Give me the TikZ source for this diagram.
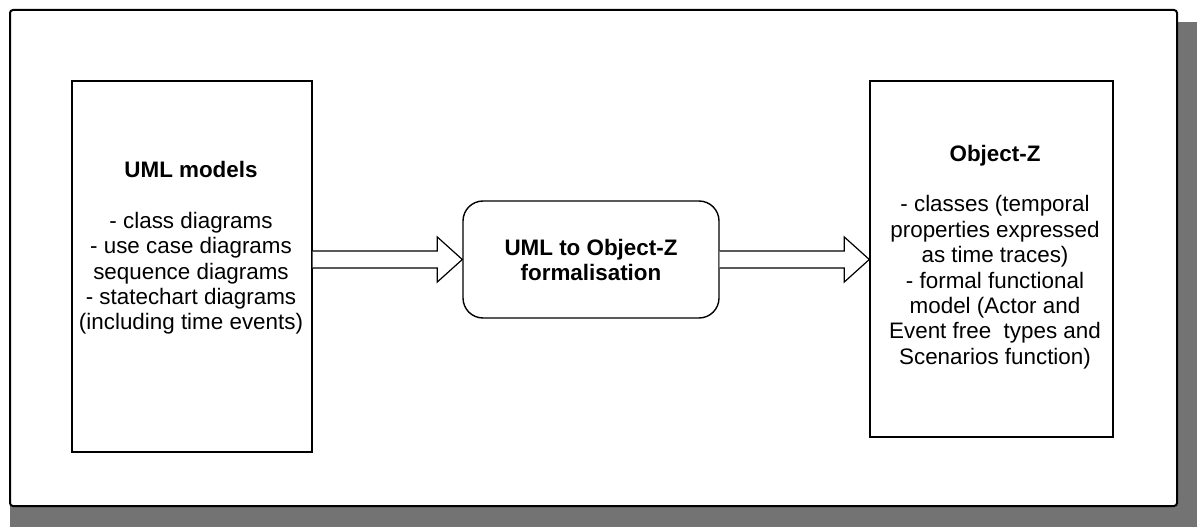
\documentclass[tikz,border=0pt]{standalone}
\usepackage{fontspec}
\setmainfont{Liberation Sans}
\usetikzlibrary{calc}
\tikzset{
  boxstyle/.style={draw=black, line width=1.4pt, fill=white, inner sep=0pt},
  txt/.style={align=center, font=\fontsize{22.4}{25.4}\selectfont, inner sep=0pt},
  blockarrow/.style={draw=black, line width=1.2pt, fill=white, line join=miter},
}
\begin{document}
\begin{tikzpicture}[x=1pt,y=-1pt]
\useasboundingbox (0,0) rectangle (1197,527);
% shadow
\fill[black!55] (1177,22) rectangle (1197,527);
\fill[black!55] (10,506) rectangle (1197,527);
% outer frame
\draw[line width=2pt, rounded corners=3pt, fill=white] (10,10) rectangle (1177,506);
% boxes
\node[boxstyle, minimum width=240pt, minimum height=371pt] (L) at (192,266.5) {};
\node[boxstyle, rounded corners=20pt, minimum width=256pt, minimum height=117pt] (M) at (591,259.5) {};
\node[boxstyle, minimum width=243pt, minimum height=356pt] (R) at (991.5,259) {};
% texts
\node[txt] (Lt) at (191,248) {\textbf{UML models}\\[25.4pt]- class diagrams\\- use case diagrams\\sequence diagrams\\- statechart diagrams\\(including time events)};
\node[txt] (Mt) at (591,260) {\textbf{UML to Object-Z}\\\textbf{formalisation}};
\node[txt] (Rt) at (995,257) {\textbf{Object-Z}\\[25.4pt]- classes (temporal\\properties expressed\\as time traces)\\- formal functional\\model (Actor and\\Event free\ \ types and\\Scenarios function)};
% block arrows
\draw[blockarrow] ($(L.east |- M.west)+(0,-8.5)$) -- ($(M.west)+(-25,-8.5)$) -- ($(M.west)+(-25,-22.5)$) -- (M.west) -- ($(M.west)+(-25,22.5)$) -- ($(M.west)+(-25,8.5)$) -- ($(L.east |- M.west)+(0,8.5)$);
\draw[blockarrow] ($(M.east)+(0,-8.5)$) -- ($(R.west |- M.east)+(-25,-8.5)$) -- ($(R.west |- M.east)+(-25,-22.5)$) -- (R.west |- M.east) -- ($(R.west |- M.east)+(-25,22.5)$) -- ($(R.west |- M.east)+(-25,8.5)$) -- ($(M.east)+(0,8.5)$);
\end{tikzpicture}
\end{document}
